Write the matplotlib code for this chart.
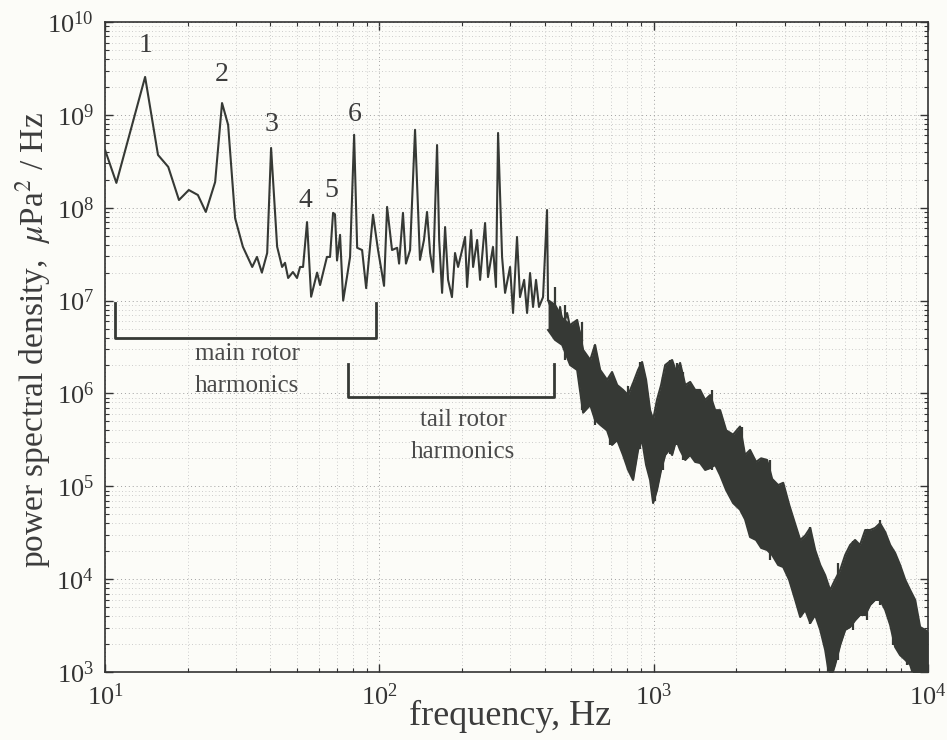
import numpy as np
import matplotlib
matplotlib.use("Agg")
import matplotlib.pyplot as plt
from matplotlib.ticker import LogLocator, NullFormatter

plt.rcParams['font.family'] = ['Liberation Serif', 'DejaVu Serif']
plt.rcParams['mathtext.fontset'] = 'stix'

# ---- line part of the spectrum (Hz, uPa^2/Hz) ----
line_freq = [10.0, 11.0, 14.0, 15.6, 17.0, 18.6, 20.2, 21.8, 23.3, 25.2, 26.7, 28.1,
             29.8, 31.8, 34.4, 35.8, 37.3, 39.0, 40.3, 42.4, 44.2, 45.3, 46.5, 48.4,
             50.1, 51.4, 52.7, 54.5, 56.4, 59.3, 60.8, 64.4, 66.1, 67.8, 68.9, 70.1,
             71.9, 73.8, 76.2, 78.2, 80.9, 83.0, 86.5, 89.5, 94.8, 98.9, 104.0, 106.7,
             111.2, 116.1, 118.0, 121.9, 125.0, 129.4, 134.9, 140.6, 145.4, 149.2,
             153.1, 157.0, 162.3, 165.2, 169.3, 173.6, 178.0, 183.9, 188.7, 193.6,
             200.3, 205.3, 208.8, 216.0, 219.6, 227.2, 232.9, 242.8, 248.9, 259.5,
             266.1, 270.8, 280.1, 287.2, 299.5, 307.1, 317.5, 325.5, 337.0, 345.5,
             354.2, 363.2, 372.4, 381.8, 395.0, 408.5, 411.9, 429.5, 444.4, 455.7,
             467.2, 483.4, 504.0, 525.5, 548.0]
line_psd = [4.2e8, 1.85e8, 2.56e9, 3.7e8, 2.75e8, 1.21e8, 1.55e8, 1.37e8, 9.0e7, 1.89e8,
            1.34e9, 7.8e8, 7.7e7, 3.8e7, 2.3e7, 2.95e7, 2.0e7, 3.25e7, 4.4e8, 3.8e7,
            2.3e7, 2.55e7, 1.75e7, 2.03e7, 1.75e7, 2.3e7, 2.3e7, 7.0e7, 1.1e7, 2.0e7,
            1.47e7, 2.95e7, 2.95e7, 8.8e7, 8.5e7, 2.7e7, 5.1e7, 1.0e7, 1.8e7, 2.95e7,
            6.1e8, 3.7e7, 3.5e7, 1.36e7, 8.4e7, 3.5e7, 1.44e7, 1.02e8, 3.5e7, 3.7e7,
            2.5e7, 8.8e7, 2.5e7, 3.5e7, 6.9e8, 2.74e7, 4.49e7, 9.0e7, 3.25e7, 2.03e7,
            4.73e8, 4.49e7, 1.21e7, 6.19e7, 1.67e7, 1.09e7, 3.25e7, 2.3e7, 3.51e7,
            4.84e7, 1.4e7, 5.75e7, 2.3e7, 4.49e7, 1.67e7, 6.84e7, 1.79e7, 3.78e7,
            1.4e7, 6.38e8, 2.94e7, 1.21e7, 2.3e7, 7.35e6, 4.84e7, 1.09e7, 1.67e7,
            7.35e6, 1.98e7, 8.53e6, 1.67e7, 8.53e6, 1.09e7, 9.45e7, 1.01e7, 7.35e6,
            4.48e6, 8.53e6, 5.2e6, 7.35e6, 4.06e6, 5.74e6, 3.77e6]

# ---- dense part of the spectrum: upper / lower envelope ----
band_freq = [412, 437, 464, 496, 526, 553, 587, 611, 638, 676, 705, 736, 773, 807, 841,
             877, 907, 938, 970, 995, 1028, 1064, 1101, 1138, 1167, 1208, 1248, 1303,
             1358, 1416, 1476, 1540, 1606, 1675, 1746, 1837, 1947, 2064, 2153, 2245,
             2361, 2464, 2590, 2702, 2842, 2965, 3118, 3280, 3420, 3567, 3720, 3876,
             4046, 4217, 4395, 4581, 4786, 4989, 5200, 5420, 5649, 5902, 6152, 6412,
             6683, 6982, 7278, 7586, 7907, 8260, 8610, 8974, 9354, 9750, 10000]
band_upper = [1.01e7, 8.96e6, 6.49e6, 5.46e6, 6.18e6, 2.94e6, 2.29e6, 3.33e6, 1.79e6,
              1.4e6, 1.7e6, 1.23e6, 1.09e6, 9.6e5, 1.29e6, 1.79e6, 2.18e6, 1.4e6, 6.6e5,
              5.2e5, 8.5e5, 1.23e6, 2.02e6, 2.18e6, 2.29e6, 1.7e6, 2.13e6, 1.23e6,
              1.33e6, 1.09e6, 1.09e6, 8.5e5, 9.6e5, 6.6e5, 6.6e5, 4.0e5, 3.6e5, 4.4e5,
              2.17e5, 2.46e5, 1.83e5, 2.0e5, 1.92e5, 1.2e5, 1.03e5, 1.09e5, 6.3e4, 3.9e4,
              2.64e4, 2.95e4, 3.56e4, 2.06e4, 1.42e4, 1.1e4, 7.6e3, 9.8e3, 1.26e4,
              1.82e4, 2.33e4, 2.64e4, 2.33e4, 3.38e4, 3.38e4, 3.56e4, 4.0e4, 3.2e4,
              2.33e4, 1.91e4, 1.42e4, 9.8e3, 7.6e3, 5.97e3, 3.05e3, 2.84e3, 2.7e3]
band_lower = [4.82e6, 3.77e6, 3.33e6, 2.02e6, 1.79e6, 6.2e5, 7.5e5, 5.2e5, 4.6e5, 4.0e5,
              2.79e5, 3.15e5, 2.17e5, 1.5e5, 1.17e5, 2.46e5, 3.15e5, 1.7e5, 1.17e5,
              6.6e4, 9.1e4, 1.5e5, 2.17e5, 2.46e5, 2.17e5, 3.15e5, 2.46e5, 1.92e5,
              2.17e5, 1.83e5, 1.78e5, 1.5e5, 1.57e5, 1.7e5, 1.32e5, 9.1e4, 6.6e4, 5.6e4,
              4.4e4, 2.84e4, 2.64e4, 2.17e4, 2.06e4, 1.82e4, 1.42e4, 1.35e4, 9.8e3,
              5.97e3, 3.91e3, 4.66e3, 3.37e3, 4.11e3, 2.84e3, 1.73e3, 8e2, 1.19e3,
              1.96e3, 2.84e3, 3.05e3, 3.6e3, 4.11e3, 4.11e3, 5.27e3, 5.97e3, 5.97e3,
              4.66e3, 3.2e3, 1.86e3, 1.52e3, 1.35e3, 1.19e3, 8e2, 8e2, 8e2, 8e2]

# ---- individual spikes inside the dense part (freq, bottom, top) ----
spike_freq = [437, 475, 548, 611, 693, 807, 841, 891, 1012, 1082, 1148, 1217, 1280,
              1633, 2100, 2656, 3720, 4325, 4702, 5330, 5998, 6683, 7464, 8399]
spike_bottom = [3.8e6, 2.3e6, 6.6e5, 4.6e5, 2.8e5, 1.5e5, 1.2e5, 2.5e5, 7.0e4, 1.5e5,
                2.2e5, 2.8e5, 1.9e5, 1.5e5, 5.0e4, 1.6e4, 3.3e3, 8e2, 1.35e3, 2.8e3,
                3.6e3, 5.3e3, 1.96e3, 1.19e3]
spike_top = [1.4e7, 9.0e6, 5.9e6, 3.3e6, 1.5e6, 1.2e6, 1.3e6, 2.2e6, 5.2e5, 1.5e6,
             2.3e6, 2.1e6, 1.7e6, 1.1e6, 4.4e5, 1.9e5, 3.6e4, 8.7e3, 1.5e4, 2.6e4,
             3.4e4, 4.3e4, 2.1e4, 8.7e3]

peak_labels = ['1', '2', '3', '4', '5', '6']
peak_label_freq = [14.0, 26.7, 40.5, 53.6, 67.0, 81.0]
peak_label_psd = [5.6e9, 2.7e9, 7.8e8, 1.2e8, 1.55e8, 1.0e9]

main_bracket_freq = [10.9, 97.2]
main_bracket_psd = [9.4e6, 3.95e6]
tail_bracket_freq = [76.9, 433.5]
tail_bracket_psd = [2.08e6, 9.2e5]

bg = '#fcfcf8'
ink = '#363935'
txt = '#3c3c3c'

fig = plt.figure(figsize=(9.47, 7.40), dpi=100, facecolor=bg)
ax = fig.add_axes([0.1109, 0.0919, 0.8691, 0.8784], facecolor=bg)

ax.fill_between(band_freq, band_lower, band_upper, color=ink, lw=0, zorder=3)
ax.plot(band_freq, band_upper, color=ink, lw=1.5, zorder=3)
ax.plot(band_freq, band_lower, color=ink, lw=1.5, zorder=3)
ax.vlines(spike_freq, spike_bottom, spike_top, color=ink, lw=1.6, zorder=3)
ax.plot(line_freq, line_psd, color=ink, lw=1.5, zorder=4)

ax.set_xscale('log')
ax.set_yscale('log')
ax.set_xlim(10, 1e4)
ax.set_ylim(1e3, 1e10)

ax.xaxis.set_major_locator(LogLocator(base=10, numticks=10))
ax.yaxis.set_major_locator(LogLocator(base=10, numticks=12))
ax.xaxis.set_minor_locator(LogLocator(base=10, subs=np.arange(2, 10), numticks=20))
ax.yaxis.set_minor_locator(LogLocator(base=10, subs=np.arange(2, 10), numticks=20))
ax.xaxis.set_minor_formatter(NullFormatter())
ax.yaxis.set_minor_formatter(NullFormatter())

ax.grid(True, which='major', linestyle=(0, (1, 3)), color='#a0a0a0', lw=0.7)
ax.grid(True, which='minor', linestyle=(0, (1, 3)), color='#bdbdbd', lw=0.6)
ax.set_axisbelow(True)

ax.tick_params(which='both', direction='in', top=True, right=True, colors='#333333')
ax.tick_params(which='major', length=6, width=1.0, labelsize=19, pad=8)
ax.tick_params(which='minor', length=3, width=0.8)
for sp in ax.spines.values():
    sp.set_color('#333333')
    sp.set_linewidth(1.2)

fig.text(0.539, 1 - 716 / 740, 'frequency, Hz', fontsize=26, color=txt,
         ha='center', va='center')
fig.text(33 / 947, 1 - 340 / 740,
         r'power spectral density,  $\mathit{\mu}$Pa$^2$ / Hz', fontsize=24,
         color=txt, ha='center', va='center', rotation=90)

for lab, f, p in zip(peak_labels, peak_label_freq, peak_label_psd):
    ax.text(f, p, lab, fontsize=20, color=txt, ha='center', va='center', zorder=5)

# brackets
ax.plot([main_bracket_freq[0], main_bracket_freq[0], main_bracket_freq[1], main_bracket_freq[1]],
        [main_bracket_psd[0], main_bracket_psd[1], main_bracket_psd[1], main_bracket_psd[0]],
        color=ink, lw=2.0, zorder=5)
ax.plot([tail_bracket_freq[0], tail_bracket_freq[0], tail_bracket_freq[1], tail_bracket_freq[1]],
        [tail_bracket_psd[0], tail_bracket_psd[1], tail_bracket_psd[1], tail_bracket_psd[0]],
        color=ink, lw=2.0, zorder=5)
ax.text(33, 1.8e6, 'main rotor\nharmonics', fontsize=18, color='#4a4a4a',
        ha='center', va='center', linespacing=1.6, zorder=5)
ax.text(202, 3.5e5, 'tail rotor\nharmonics', fontsize=18, color='#4a4a4a',
        ha='center', va='center', linespacing=1.6, zorder=5)

fig.savefig('out.png', dpi=100, facecolor=bg)
